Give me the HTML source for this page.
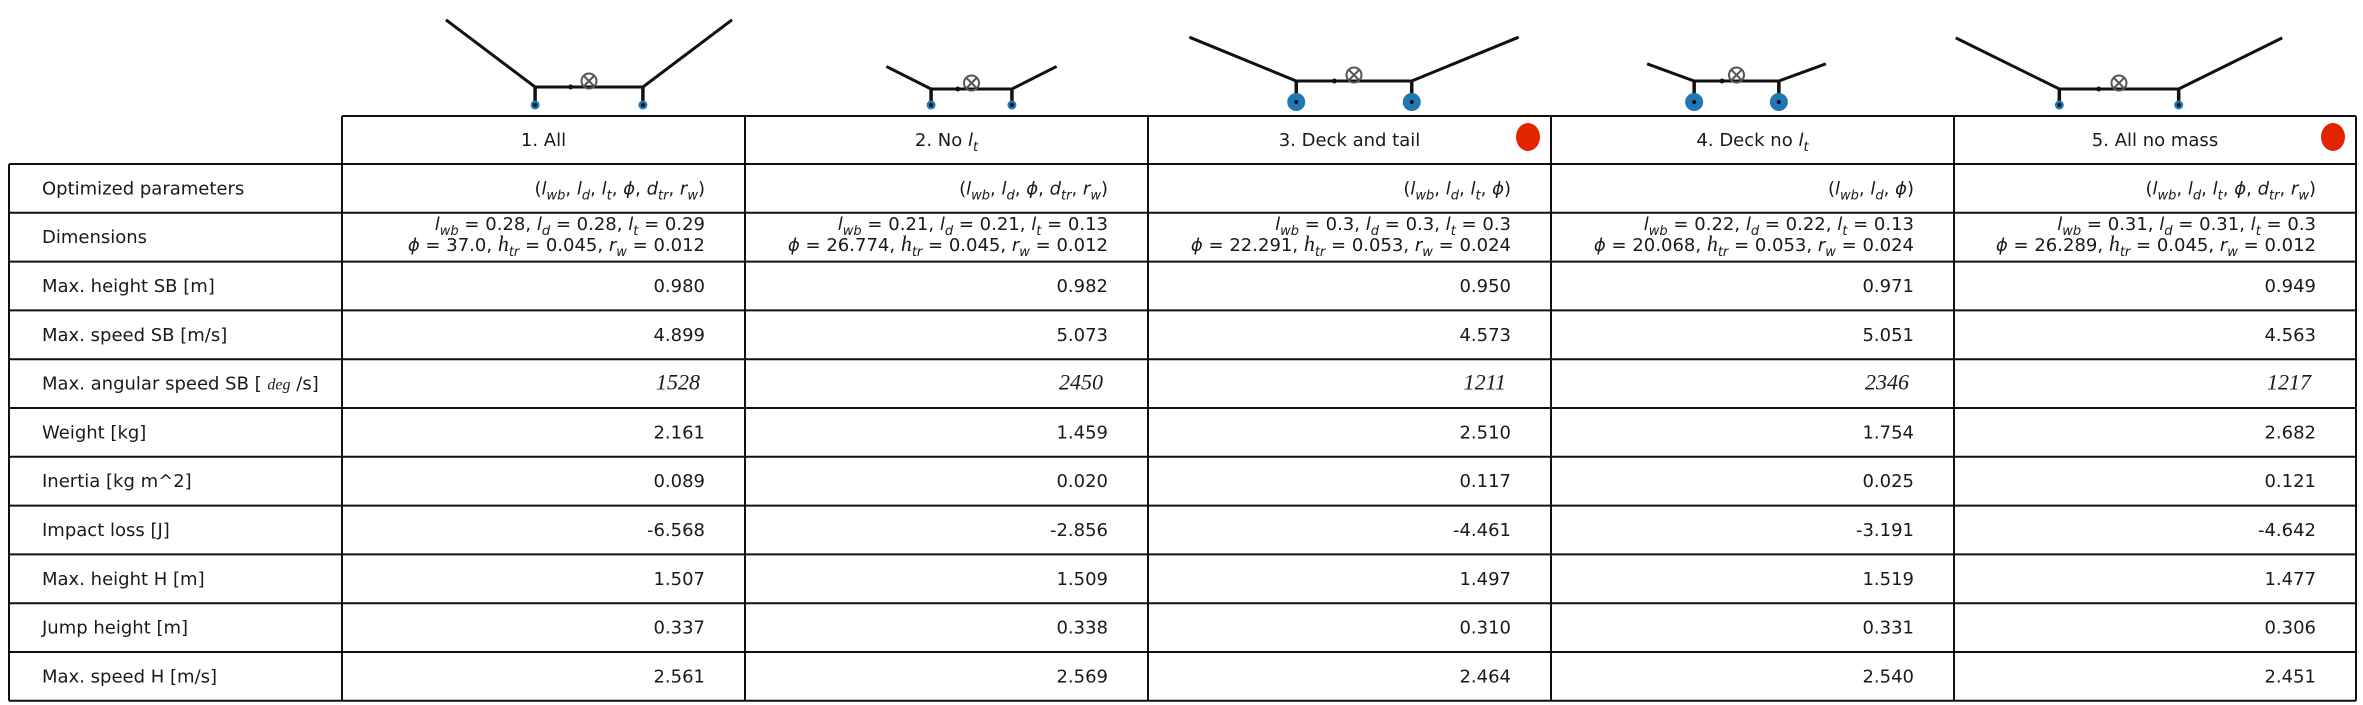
<!DOCTYPE html>
<html><head><meta charset="utf-8"><style>
body{margin:0;background:#fff}
svg{display:block}
text{font-family:"DejaVu Sans","Liberation Sans",sans-serif;font-size:18px;fill:#1a1a1a}
</style></head><body>
<svg id="s" width="2363" height="705" viewBox="0 0 2363 705"></svg>
<script>
const colTitles=["1. All","2. No l_{t}","3. Deck and tail","4. Deck no l_{t}","5. All no mass"];
const rowLabels=["Optimized parameters","Dimensions","Max. height SB [m]","Max. speed SB [m/s]","Max. angular speed SB [deg/s]","Weight [kg]","Inertia [kg m^2]","Impact loss [J]","Max. height H [m]","Jump height [m]","Max. speed H [m/s]"];
const optParams=["(l_{wb}, l_{d}, l_{t}, ϕ, d_{tr}, r_{w})","(l_{wb}, l_{d}, ϕ, d_{tr}, r_{w})","(l_{wb}, l_{d}, l_{t}, ϕ)","(l_{wb}, l_{d}, ϕ)","(l_{wb}, l_{d}, l_{t}, ϕ, d_{tr}, r_{w})"];
const dims1=["l_{wb} = 0.28, l_{d} = 0.28, l_{t} = 0.29","l_{wb} = 0.21, l_{d} = 0.21, l_{t} = 0.13","l_{wb} = 0.3, l_{d} = 0.3, l_{t} = 0.3","l_{wb} = 0.22, l_{d} = 0.22, l_{t} = 0.13","l_{wb} = 0.31, l_{d} = 0.31, l_{t} = 0.3"];
const dims2=["ϕ = 37.0, h_{tr} = 0.045, r_{w} = 0.012","ϕ = 26.774, h_{tr} = 0.045, r_{w} = 0.012","ϕ = 22.291, h_{tr} = 0.053, r_{w} = 0.024","ϕ = 20.068, h_{tr} = 0.053, r_{w} = 0.024","ϕ = 26.289, h_{tr} = 0.045, r_{w} = 0.012"];
const maxHeightSB=["0.980","0.982","0.950","0.971","0.949"];
const maxSpeedSB=["4.899","5.073","4.573","5.051","4.563"];
const angSpeed=["1528","2450","1211","2346","1217"];
const weight=["2.161","1.459","2.510","1.754","2.682"];
const inertia=["0.089","0.020","0.117","0.025","0.121"];
const impactLoss=["-6.568","-2.856","-4.461","-3.191","-4.642"];
const maxHeightH=["1.507","1.509","1.497","1.519","1.477"];
const jumpHeight=["0.337","0.338","0.310","0.331","0.306"];
const maxSpeedH=["2.561","2.569","2.464","2.540","2.451"];
const highlighted=[false,false,true,false,true];
const deckLen=[0.28,0.21,0.3,0.22,0.31];
const tailLen=[0.29,0.13,0.3,0.13,0.3];
const phiDeg=[37.0,26.774,22.291,20.068,26.289];
const wheelR=[0.012,0.012,0.024,0.024,0.012];

const NS="http://www.w3.org/2000/svg";
const svg=document.getElementById('s');
function el(t,a,p){const e=document.createElementNS(NS,t);for(const k in a)e.setAttribute(k,a[k]);(p||svg).appendChild(e);return e;}
const colX=[342,745,1148,1551,1954,2356];
const leftX=9, topY=116, headBot=164, rowH=48.8;
function rowY(i){return headBot+i*rowH;}
function mathText(str,x,y,name){
  const t=el('text',{x:x,y:y,'text-anchor':'end'});
  
  let i=0;
  while(i<str.length){
    const c=str[i];
    if(c==='_'&&str[i+1]==='{'){const j=str.indexOf('}',i);const sub=str.slice(i+2,j);
      const s=el('tspan',{dy:5,'font-size':13,'font-style':'italic'},t);s.textContent=sub;
      const r=el('tspan',{dy:-5},t);r.textContent='\u200B';i=j+1;continue;}
    if(c==='h'){const s=el('tspan',{'font-style':'italic','font-family':'"Liberation Serif",serif','font-size':22},t);s.textContent=c;}
    else if(/[a-zA-Zϕ]/.test(c)){const s=el('tspan',{'font-style':'italic'},t);s.textContent=c;}
    else{const s=el('tspan',{},t);s.textContent=c;}
    i++;
  }
  return t;
}
const g=el('g',{stroke:'#111','stroke-width':2,fill:'none'});

el('line',{x1:colX[0],y1:topY,x2:colX[5],y2:topY},g);
for(let i=0;i<=11;i++){el('line',{x1:leftX,y1:rowY(i),x2:colX[5],y2:rowY(i)},g);}
el('line',{x1:leftX,y1:headBot,x2:leftX,y2:rowY(11)},g);
colX.forEach(x=>el('line',{x1:x,y1:topY,x2:x,y2:rowY(11)},g));
colTitles.forEach((c,j)=>{
  const cx=(colX[j]+colX[j+1])/2;
  const t=el('text',{x:cx,y:topY+30,'text-anchor':'middle'});
  
  const m=c.match(/^(.*)l_\{t\}$/);
  if(m){const a=el('tspan',{},t);a.textContent=m[1];const b=el('tspan',{'font-style':'italic'},t);b.textContent='l';const s=el('tspan',{dy:5,'font-size':13,'font-style':'italic'},t);s.textContent='t';}
  else t.textContent=c;
  if(highlighted[j]){const d=el('ellipse',{cx:colX[j+1]-23,cy:topY+21,rx:12,ry:14,fill:'#e32400'});
    }
});
rowLabels.forEach((r,i)=>{
  const t=el('text',{x:42,y:rowY(i)+rowH/2+6});
  
  if(r.indexOf('[deg/s]')>=0){const a=el('tspan',{},t);a.textContent='Max. angular speed SB [ ';
    const b=el('tspan',{style:'font-family:"Liberation Serif",serif;font-style:italic;font-size:16px'},t);b.textContent='deg';
    const c=el('tspan',{},t);c.textContent=' /s]';}
  else t.textContent=r;
});
const valueRows=[maxHeightSB,maxSpeedSB,angSpeed,weight,inertia,impactLoss,maxHeightH,jumpHeight,maxSpeedH];
for(let j=0;j<5;j++){
  const rx=colX[j+1]-40;
  mathText(optParams[j],rx,rowY(0)+rowH/2+6,'opt-params-'+(j+1));
  mathText(dims1[j],rx,rowY(1)+17,'dims-line1-'+(j+1));
  mathText(dims2[j],rx,rowY(1)+38,'dims-line2-'+(j+1));
  valueRows.forEach((arr,k)=>{
    const i=k+2;
    const t=el('text',{x:k===2?rx-5:rx,y:rowY(i)+rowH/2+6,'text-anchor':'end'});
    if(k===2){t.setAttribute('style','font-family:"Liberation Serif",serif;font-style:italic;font-size:22px');}
    
    
    t.textContent=arr[j];
  });
}
const scale=385;
for(let j=0;j<5;j++){
  const cx=589+j*382.5;
  const gg=el('g',{});
  
  const half=deckLen[j]*scale/2;
  const big=wheelR[j]>0.02;
  const wy=big?102:105;
  const deckY=big?81:(j===1?89:(j===4?89:87));
  const ph=phiDeg[j]*Math.PI/180, tl=tailLen[j]*scale;
  const x1=cx-half,x2=cx+half;
  const p=`M${x1-tl*Math.cos(ph)},${deckY-tl*Math.sin(ph)} L${x1},${deckY} L${x2},${deckY} L${x2+tl*Math.cos(ph)},${deckY-tl*Math.sin(ph)}`;
  el('path',{d:p,stroke:'#111','stroke-width':3,fill:'none','stroke-linejoin':'miter'},gg);
  [x1,x2].forEach(x=>{
    el('line',{x1:x,y1:deckY,x2:x,y2:wy,stroke:'#111','stroke-width':3.5},gg);
    el('circle',{cx:x,cy:wy,r:big?9:4.5,fill:'#1f77b4'},gg);
    el('circle',{cx:x,cy:wy,r:2,fill:'#111'},gg);
  });
  el('circle',{cx:cx-half*0.34,cy:deckY,r:2.5,fill:'#111'},gg);
  const mx=cx, my=deckY-6;
  el('circle',{cx:mx,cy:my,r:7.5,fill:'none',stroke:'#555','stroke-width':2},gg);
  el('path',{d:`M${mx-5},${my-5}L${mx+5},${my+5}M${mx+5},${my-5}L${mx-5},${my+5}`,stroke:'#555','stroke-width':2},gg);
}
</script>
</body></html>
